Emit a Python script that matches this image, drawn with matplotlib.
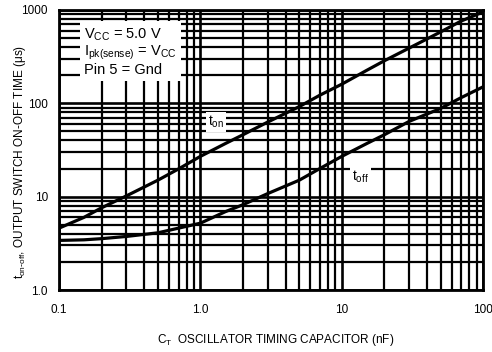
import matplotlib
matplotlib.use("Agg")
import matplotlib.pyplot as plt
from matplotlib.ticker import LogLocator, FixedLocator, FixedFormatter, NullFormatter

# Data
ct_nf = [0.1, 0.15, 0.2, 0.3, 0.5, 0.7, 1.0, 1.5, 2.0, 3.0, 5.0, 7.0, 10, 15, 20, 30, 50, 70, 100]
t_on = [4.6, 6.0, 7.6, 10.2, 15.0, 19.8, 27, 37, 46, 63, 92, 122, 160, 225, 285, 390, 580, 760, 950]
t_off = [3.4, 3.45, 3.55, 3.75, 4.1, 4.6, 5.2, 6.9, 8.2, 10.8, 15, 20, 27, 37, 46, 64, 88, 115, 150]

x_ticks = [0.1, 1.0, 10, 100]
x_ticklabels = ["0.1", "1.0", "10", "100"]
y_ticks = [1, 10, 100, 1000]
y_ticklabels = ["1.0", "10", "100", "1000"]

legend_lines = ["V$_{CC}$ = 5.0 V", "I$_{pk(sense)}$ = V$_{CC}$", "Pin 5 = Gnd"]

fam = ["Liberation Sans Narrow", "Liberation Sans", "DejaVu Sans"]
plt.rcParams["font.family"] = fam
plt.rcParams["mathtext.default"] = "regular"

fig = plt.figure(figsize=(4.92, 3.52), dpi=100)
ax = fig.add_axes([0.12, 0.176, 0.862, 0.796])
ax.set_xscale("log")
ax.set_yscale("log")
ax.set_xlim(0.1, 100)
ax.set_ylim(1, 1000)

ax.xaxis.set_major_locator(FixedLocator(x_ticks))
ax.xaxis.set_major_formatter(FixedFormatter(x_ticklabels))
ax.yaxis.set_major_locator(FixedLocator(y_ticks))
ax.yaxis.set_major_formatter(FixedFormatter(y_ticklabels))
ax.xaxis.set_minor_locator(LogLocator(base=10, subs=range(2, 10)))
ax.yaxis.set_minor_locator(LogLocator(base=10, subs=range(2, 10)))
ax.xaxis.set_minor_formatter(NullFormatter())
ax.yaxis.set_minor_formatter(NullFormatter())

ax.grid(which="major", color="black", linewidth=1.9)
ax.grid(which="minor", color="black", linewidth=1.6)
ax.tick_params(which="both", length=0, labelsize=8.5)
ax.tick_params(axis="x", pad=10)
ax.tick_params(axis="y", pad=8)
for s in ax.spines.values():
    s.set_linewidth(2)
    s.set_color("black")

ax.plot(ct_nf, t_on, color="black", linewidth=2.3, zorder=3)
ax.plot(ct_nf, t_off, color="black", linewidth=2.3, zorder=3)

ax.text(0.37, 0.60, "t$_{on}$", transform=ax.transAxes, fontsize=10,
        ha="center", va="center", zorder=4,
        bbox=dict(facecolor="white", edgecolor="none", pad=1.5))
ax.text(0.711, 0.404, "t$_{off}$", transform=ax.transAxes, fontsize=10,
        ha="center", va="center", zorder=4,
        bbox=dict(facecolor="white", edgecolor="none", pad=1.5))

ax.text(0.06, 0.94, "\n".join(legend_lines), transform=ax.transAxes, fontsize=10.5,
        ha="left", va="top", linespacing=1.05, zorder=4,
        bbox=dict(facecolor="white", edgecolor="none", pad=3))

fig.text(157 / 492, 1 - 340 / 352, "C$_T$  OSCILLATOR TIMING CAPACITOR (nF)",
         fontsize=8.5, ha="left", va="center")
fig.text(20 / 492, 1 - 162 / 352, "t$_{on\\text{-}off}$, OUTPUT SWITCH ON-OFF TIME (\u03bcs)",
         fontsize=8.5, ha="center", va="center", rotation=90)

fig.savefig("out.png", dpi=100, facecolor="white")
